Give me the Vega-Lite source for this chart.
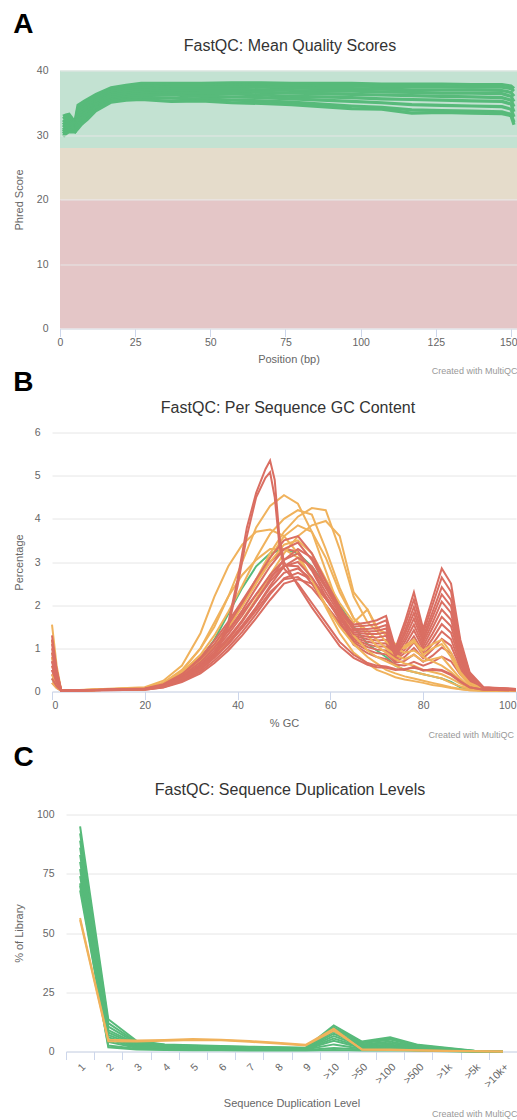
{
"$schema":"https://vega.github.io/schema/vega-lite/v6.json",
"background":"white",
"padding":{"left":12,"top":10.5,"right":0,"bottom":0},
"config":{
 "view":{"stroke":null},
 "font":"Liberation Sans",
 "axis":{"labelFont":"Liberation Sans","titleFont":"Liberation Sans","labelColor":"#666666","titleColor":"#666666","labelFontSize":10.5,"titleFontSize":11,"titleFontWeight":"normal","domainColor":"#ccd6eb","tickColor":"#ccd6eb","gridColor":"#e6e6e6"},
 "title":{"font":"Liberation Sans","fontWeight":"normal"}
},
"datasets":{
"zones":[{"zone":"fail","lo":0,"hi":20},{"zone":"warn","lo":20,"hi":28},{"zone":"pass","lo":28,"hi":40}],
"samples":[{"s":"m1","q":"fail"},{"s":"m2","q":"fail"},{"s":"m3","q":"fail"},{"s":"m4","q":"fail"},{"s":"m5","q":"fail"},{"s":"m6","q":"fail"},{"s":"m7","q":"fail"},{"s":"m8","q":"fail"},{"s":"m9","q":"fail"},{"s":"m10","q":"fail"},{"s":"m11","q":"fail"},{"s":"m12","q":"fail"},{"s":"r1","q":"fail"},{"s":"r2","q":"fail"},{"s":"w1","q":"warn"},{"s":"w2","q":"warn"},{"s":"w3","q":"warn"},{"s":"w4","q":"warn"},{"s":"w5","q":"warn"},{"s":"w6","q":"warn"},{"s":"w7","q":"warn"},{"s":"w8","q":"warn"},{"s":"p1","q":"pass"},{"s":"d1","q":"pass"},{"s":"d2","q":"pass"},{"s":"d3","q":"pass"},{"s":"d4","q":"pass"},{"s":"d5","q":"pass"},{"s":"d6","q":"pass"},{"s":"d7","q":"pass"},{"s":"d8","q":"pass"},{"s":"d9","q":"pass"},{"s":"d10","q":"pass"},{"s":"d11","q":"pass"},{"s":"e1","q":"warn"},{"s":"e2","q":"warn"}],
"qual":[
{"s":"a1","x":1,"y":32.9},{"s":"a1","x":2,"y":33.1},{"s":"a1","x":3,"y":33.2},{"s":"a1","x":4,"y":32.6},{"s":"a1","x":5,"y":32.1},{"s":"a1","x":6,"y":34.6},{"s":"a1","x":7,"y":34.9},{"s":"a1","x":8,"y":35.2},{"s":"a1","x":9,"y":35.5},{"s":"a1","x":12,"y":36.3},{"s":"a1","x":17,"y":37.3},{"s":"a1","x":22,"y":37.7},{"s":"a1","x":27,"y":38},{"s":"a1","x":37,"y":38},{"s":"a1","x":47,"y":38},{"s":"a1","x":57,"y":38.1},{"s":"a1","x":67,"y":38.1},{"s":"a1","x":77,"y":38},{"s":"a1","x":87,"y":38},{"s":"a1","x":97,"y":38},{"s":"a1","x":107,"y":37.9},{"s":"a1","x":117,"y":37.9},{"s":"a1","x":127,"y":37.9},{"s":"a1","x":137,"y":37.8},{"s":"a1","x":147,"y":37.8},{"s":"a1","x":150,"y":37.6},{"s":"a1","x":151,"y":37.2},
{"s":"a2","x":1,"y":32.5},{"s":"a2","x":2,"y":32.8},{"s":"a2","x":3,"y":33},{"s":"a2","x":4,"y":32.3},{"s":"a2","x":5,"y":31.8},{"s":"a2","x":6,"y":34.2},{"s":"a2","x":7,"y":34.6},{"s":"a2","x":8,"y":34.9},{"s":"a2","x":9,"y":35.2},{"s":"a2","x":12,"y":36},{"s":"a2","x":17,"y":37},{"s":"a2","x":22,"y":37.4},{"s":"a2","x":27,"y":37.6},{"s":"a2","x":37,"y":37.7},{"s":"a2","x":47,"y":37.7},{"s":"a2","x":57,"y":37.8},{"s":"a2","x":67,"y":37.7},{"s":"a2","x":77,"y":37.7},{"s":"a2","x":87,"y":37.6},{"s":"a2","x":97,"y":37.6},{"s":"a2","x":107,"y":37.5},{"s":"a2","x":117,"y":37.5},{"s":"a2","x":127,"y":37.5},{"s":"a2","x":137,"y":37.4},{"s":"a2","x":147,"y":37.4},{"s":"a2","x":150,"y":37.2},{"s":"a2","x":151,"y":36.8},
{"s":"a3","x":1,"y":32},{"s":"a3","x":2,"y":32.4},{"s":"a3","x":3,"y":32.6},{"s":"a3","x":4,"y":32},{"s":"a3","x":5,"y":31.5},{"s":"a3","x":6,"y":33.8},{"s":"a3","x":7,"y":34.2},{"s":"a3","x":8,"y":34.5},{"s":"a3","x":9,"y":34.8},{"s":"a3","x":12,"y":35.7},{"s":"a3","x":17,"y":36.7},{"s":"a3","x":22,"y":37.1},{"s":"a3","x":27,"y":37.3},{"s":"a3","x":37,"y":37.4},{"s":"a3","x":47,"y":37.4},{"s":"a3","x":57,"y":37.5},{"s":"a3","x":67,"y":37.4},{"s":"a3","x":77,"y":37.3},{"s":"a3","x":87,"y":37.2},{"s":"a3","x":97,"y":37.2},{"s":"a3","x":107,"y":37.1},{"s":"a3","x":117,"y":37},{"s":"a3","x":127,"y":37},{"s":"a3","x":137,"y":37},{"s":"a3","x":147,"y":36.9},{"s":"a3","x":150,"y":36.6},{"s":"a3","x":151,"y":36},
{"s":"a4","x":1,"y":31.6},{"s":"a4","x":2,"y":32},{"s":"a4","x":3,"y":32.2},{"s":"a4","x":4,"y":31.7},{"s":"a4","x":5,"y":31.2},{"s":"a4","x":6,"y":33.4},{"s":"a4","x":7,"y":33.8},{"s":"a4","x":8,"y":34.1},{"s":"a4","x":9,"y":34.4},{"s":"a4","x":12,"y":35.4},{"s":"a4","x":17,"y":36.4},{"s":"a4","x":22,"y":36.8},{"s":"a4","x":27,"y":37},{"s":"a4","x":37,"y":37.1},{"s":"a4","x":47,"y":37.1},{"s":"a4","x":57,"y":37.1},{"s":"a4","x":67,"y":37},{"s":"a4","x":77,"y":36.9},{"s":"a4","x":87,"y":36.8},{"s":"a4","x":97,"y":36.8},{"s":"a4","x":107,"y":36.7},{"s":"a4","x":117,"y":36.6},{"s":"a4","x":127,"y":36.5},{"s":"a4","x":137,"y":36.5},{"s":"a4","x":147,"y":36.4},{"s":"a4","x":150,"y":36},{"s":"a4","x":151,"y":35.2},
{"s":"a5","x":1,"y":31.2},{"s":"a5","x":2,"y":31.6},{"s":"a5","x":3,"y":31.8},{"s":"a5","x":4,"y":31.4},{"s":"a5","x":5,"y":31},{"s":"a5","x":6,"y":33},{"s":"a5","x":7,"y":33.4},{"s":"a5","x":8,"y":33.7},{"s":"a5","x":9,"y":34},{"s":"a5","x":12,"y":35.1},{"s":"a5","x":17,"y":36.1},{"s":"a5","x":22,"y":36.5},{"s":"a5","x":27,"y":36.7},{"s":"a5","x":37,"y":36.8},{"s":"a5","x":47,"y":36.8},{"s":"a5","x":57,"y":36.8},{"s":"a5","x":67,"y":36.6},{"s":"a5","x":77,"y":36.5},{"s":"a5","x":87,"y":36.4},{"s":"a5","x":97,"y":36.3},{"s":"a5","x":107,"y":36.2},{"s":"a5","x":117,"y":36.1},{"s":"a5","x":127,"y":36},{"s":"a5","x":137,"y":35.9},{"s":"a5","x":147,"y":35.8},{"s":"a5","x":150,"y":35.4},{"s":"a5","x":151,"y":34.4},
{"s":"a6","x":1,"y":30.8},{"s":"a6","x":2,"y":31.2},{"s":"a6","x":3,"y":31.4},{"s":"a6","x":4,"y":31.1},{"s":"a6","x":5,"y":30.8},{"s":"a6","x":6,"y":32.5},{"s":"a6","x":7,"y":33},{"s":"a6","x":8,"y":33.3},{"s":"a6","x":9,"y":33.6},{"s":"a6","x":12,"y":34.8},{"s":"a6","x":17,"y":35.8},{"s":"a6","x":22,"y":36.2},{"s":"a6","x":27,"y":36.4},{"s":"a6","x":37,"y":36.5},{"s":"a6","x":47,"y":36.4},{"s":"a6","x":57,"y":36.4},{"s":"a6","x":67,"y":36.2},{"s":"a6","x":77,"y":36},{"s":"a6","x":87,"y":35.9},{"s":"a6","x":97,"y":35.8},{"s":"a6","x":107,"y":35.6},{"s":"a6","x":117,"y":35.5},{"s":"a6","x":127,"y":35.4},{"s":"a6","x":137,"y":35.3},{"s":"a6","x":147,"y":35.2},{"s":"a6","x":150,"y":34.8},{"s":"a6","x":151,"y":33.6},
{"s":"a7","x":1,"y":30.5},{"s":"a7","x":2,"y":30.9},{"s":"a7","x":3,"y":31.1},{"s":"a7","x":4,"y":30.9},{"s":"a7","x":5,"y":30.6},{"s":"a7","x":6,"y":32},{"s":"a7","x":7,"y":32.6},{"s":"a7","x":8,"y":32.9},{"s":"a7","x":9,"y":33.2},{"s":"a7","x":12,"y":34.5},{"s":"a7","x":17,"y":35.5},{"s":"a7","x":22,"y":35.9},{"s":"a7","x":27,"y":36.1},{"s":"a7","x":37,"y":36.2},{"s":"a7","x":47,"y":36},{"s":"a7","x":57,"y":35.9},{"s":"a7","x":67,"y":35.8},{"s":"a7","x":77,"y":35.6},{"s":"a7","x":87,"y":35.4},{"s":"a7","x":97,"y":35.2},{"s":"a7","x":107,"y":35},{"s":"a7","x":117,"y":34.7},{"s":"a7","x":127,"y":34.6},{"s":"a7","x":137,"y":34.5},{"s":"a7","x":147,"y":34.4},{"s":"a7","x":150,"y":34},{"s":"a7","x":151,"y":32.8},
{"s":"a8","x":1,"y":30.2},{"s":"a8","x":2,"y":30.6},{"s":"a8","x":3,"y":30.8},{"s":"a8","x":4,"y":30.7},{"s":"a8","x":5,"y":30.5},{"s":"a8","x":6,"y":31.5},{"s":"a8","x":7,"y":32.1},{"s":"a8","x":8,"y":32.5},{"s":"a8","x":9,"y":32.8},{"s":"a8","x":12,"y":34.2},{"s":"a8","x":17,"y":35.3},{"s":"a8","x":22,"y":35.6},{"s":"a8","x":27,"y":35.8},{"s":"a8","x":37,"y":35.7},{"s":"a8","x":47,"y":35.6},{"s":"a8","x":57,"y":35.4},{"s":"a8","x":67,"y":35.3},{"s":"a8","x":77,"y":35.1},{"s":"a8","x":87,"y":34.8},{"s":"a8","x":97,"y":34.5},{"s":"a8","x":107,"y":34.3},{"s":"a8","x":117,"y":33.9},{"s":"a8","x":127,"y":33.8},{"s":"a8","x":137,"y":33.7},{"s":"a8","x":147,"y":33.6},{"s":"a8","x":150,"y":33.2},{"s":"a8","x":151,"y":32},
{"s":"a9","x":1,"y":29.8},{"s":"a9","x":2,"y":30.2},{"s":"a9","x":3,"y":30.5},{"s":"a9","x":4,"y":30.5},{"s":"a9","x":5,"y":30.5},{"s":"a9","x":6,"y":31},{"s":"a9","x":7,"y":31.6},{"s":"a9","x":8,"y":32},{"s":"a9","x":9,"y":32.4},{"s":"a9","x":12,"y":33.8},{"s":"a9","x":17,"y":35.1},{"s":"a9","x":22,"y":35.4},{"s":"a9","x":27,"y":35.5},{"s":"a9","x":37,"y":35.2},{"s":"a9","x":47,"y":35.3},{"s":"a9","x":57,"y":35},{"s":"a9","x":67,"y":34.9},{"s":"a9","x":77,"y":34.7},{"s":"a9","x":87,"y":34.4},{"s":"a9","x":97,"y":34.1},{"s":"a9","x":107,"y":34},{"s":"a9","x":117,"y":33.4},{"s":"a9","x":127,"y":33.5},{"s":"a9","x":137,"y":33.4},{"s":"a9","x":147,"y":33.3},{"s":"a9","x":150,"y":33},{"s":"a9","x":151,"y":31.6}
],
"gc":[
{"s":"p1","x":0,"y":0.3},{"s":"p1","x":1,"y":0.1},{"s":"p1","x":2,"y":0.02},{"s":"p1","x":20,"y":0.06},{"s":"p1","x":24,"y":0.15},{"s":"p1","x":28,"y":0.35},{"s":"p1","x":32,"y":0.75},{"s":"p1","x":35,"y":1.2},{"s":"p1","x":38,"y":1.8},{"s":"p1","x":41,"y":2.4},{"s":"p1","x":44,"y":2.9},{"s":"p1","x":47,"y":3.2},{"s":"p1","x":50,"y":3.3},{"s":"p1","x":53,"y":3.2},{"s":"p1","x":56,"y":2.9},{"s":"p1","x":59,"y":2.45},{"s":"p1","x":62,"y":2},{"s":"p1","x":65,"y":1.5},{"s":"p1","x":68,"y":1.1},{"s":"p1","x":70,"y":0.95},{"s":"p1","x":72,"y":0.8},{"s":"p1","x":74,"y":0.6},{"s":"p1","x":76,"y":0.5},{"s":"p1","x":78,"y":0.45},{"s":"p1","x":80,"y":0.4},{"s":"p1","x":82,"y":0.35},{"s":"p1","x":84,"y":0.3},{"s":"p1","x":86,"y":0.22},{"s":"p1","x":88,"y":0.1},{"s":"p1","x":90,"y":0.05},{"s":"p1","x":93,"y":0.02},{"s":"p1","x":100,"y":0.01},
{"s":"m7","x":0,"y":0.8},{"s":"m7","x":1,"y":0.3},{"s":"m7","x":2,"y":0.02},{"s":"m7","x":20,"y":0.07},{"s":"m7","x":24,"y":0.17},{"s":"m7","x":28,"y":0.38},{"s":"m7","x":32,"y":0.7},{"s":"m7","x":35,"y":1.02},{"s":"m7","x":38,"y":1.4},{"s":"m7","x":41,"y":1.82},{"s":"m7","x":44,"y":2.25},{"s":"m7","x":47,"y":2.65},{"s":"m7","x":50,"y":2.92},{"s":"m7","x":53,"y":2.9},{"s":"m7","x":56,"y":2.5},{"s":"m7","x":59,"y":2},{"s":"m7","x":62,"y":1.55},{"s":"m7","x":65,"y":1.21},{"s":"m7","x":68,"y":1.09},{"s":"m7","x":70,"y":1.04},{"s":"m7","x":72,"y":1.04},{"s":"m7","x":74,"y":0.73},{"s":"m7","x":76,"y":0.89},{"s":"m7","x":78,"y":1.14},{"s":"m7","x":80,"y":0.84},{"s":"m7","x":82,"y":1.1},{"s":"m7","x":84,"y":1.39},{"s":"m7","x":86,"y":1.21},{"s":"m7","x":88,"y":0.62},{"s":"m7","x":90,"y":0.25},{"s":"m7","x":93,"y":0.06},{"s":"m7","x":100,"y":0.04},
{"s":"m8","x":0,"y":0.5},{"s":"m8","x":1,"y":0.2},{"s":"m8","x":2,"y":0.02},{"s":"m8","x":20,"y":0.05},{"s":"m8","x":24,"y":0.12},{"s":"m8","x":28,"y":0.28},{"s":"m8","x":32,"y":0.54},{"s":"m8","x":35,"y":0.82},{"s":"m8","x":38,"y":1.15},{"s":"m8","x":41,"y":1.53},{"s":"m8","x":44,"y":1.95},{"s":"m8","x":47,"y":2.4},{"s":"m8","x":50,"y":2.75},{"s":"m8","x":53,"y":2.85},{"s":"m8","x":56,"y":2.6},{"s":"m8","x":59,"y":2.15},{"s":"m8","x":62,"y":1.7},{"s":"m8","x":65,"y":1.29},{"s":"m8","x":68,"y":1.21},{"s":"m8","x":70,"y":1.18},{"s":"m8","x":72,"y":1.2},{"s":"m8","x":74,"y":0.79},{"s":"m8","x":76,"y":1.05},{"s":"m8","x":78,"y":1.42},{"s":"m8","x":80,"y":0.98},{"s":"m8","x":82,"y":1.34},{"s":"m8","x":84,"y":1.73},{"s":"m8","x":86,"y":1.51},{"s":"m8","x":88,"y":0.76},{"s":"m8","x":90,"y":0.29},{"s":"m8","x":93,"y":0.07},{"s":"m8","x":100,"y":0.04},
{"s":"m9","x":0,"y":1},{"s":"m9","x":1,"y":0.4},{"s":"m9","x":2,"y":0.02},{"s":"m9","x":20,"y":0.04},{"s":"m9","x":24,"y":0.1},{"s":"m9","x":28,"y":0.24},{"s":"m9","x":32,"y":0.46},{"s":"m9","x":35,"y":0.72},{"s":"m9","x":38,"y":1.02},{"s":"m9","x":41,"y":1.38},{"s":"m9","x":44,"y":1.8},{"s":"m9","x":47,"y":2.25},{"s":"m9","x":50,"y":2.62},{"s":"m9","x":53,"y":2.75},{"s":"m9","x":56,"y":2.6},{"s":"m9","x":59,"y":2.2},{"s":"m9","x":62,"y":1.75},{"s":"m9","x":65,"y":1.25},{"s":"m9","x":68,"y":1.15},{"s":"m9","x":70,"y":1.11},{"s":"m9","x":72,"y":1.12},{"s":"m9","x":74,"y":0.76},{"s":"m9","x":76,"y":0.97},{"s":"m9","x":78,"y":1.28},{"s":"m9","x":80,"y":0.91},{"s":"m9","x":82,"y":1.22},{"s":"m9","x":84,"y":1.56},{"s":"m9","x":86,"y":1.36},{"s":"m9","x":88,"y":0.69},{"s":"m9","x":90,"y":0.27},{"s":"m9","x":93,"y":0.06},{"s":"m9","x":100,"y":0.04},
{"s":"m10","x":0,"y":0.2},{"s":"m10","x":1,"y":0.08},{"s":"m10","x":2,"y":0.02},{"s":"m10","x":20,"y":0.05},{"s":"m10","x":24,"y":0.12},{"s":"m10","x":28,"y":0.28},{"s":"m10","x":32,"y":0.52},{"s":"m10","x":35,"y":0.8},{"s":"m10","x":38,"y":1.1},{"s":"m10","x":41,"y":1.47},{"s":"m10","x":44,"y":1.88},{"s":"m10","x":47,"y":2.3},{"s":"m10","x":50,"y":2.6},{"s":"m10","x":53,"y":2.65},{"s":"m10","x":56,"y":2.4},{"s":"m10","x":59,"y":2},{"s":"m10","x":62,"y":1.6},{"s":"m10","x":65,"y":1.17},{"s":"m10","x":68,"y":1.03},{"s":"m10","x":70,"y":0.97},{"s":"m10","x":72,"y":0.95},{"s":"m10","x":74,"y":0.7},{"s":"m10","x":76,"y":0.8},{"s":"m10","x":78,"y":1.01},{"s":"m10","x":80,"y":0.77},{"s":"m10","x":82,"y":0.97},{"s":"m10","x":84,"y":1.22},{"s":"m10","x":86,"y":1.06},{"s":"m10","x":88,"y":0.55},{"s":"m10","x":90,"y":0.22},{"s":"m10","x":93,"y":0.05},{"s":"m10","x":100,"y":0.04},
{"s":"m11","x":0,"y":0.7},{"s":"m11","x":1,"y":0.3},{"s":"m11","x":2,"y":0.02},{"s":"m11","x":20,"y":0.04},{"s":"m11","x":24,"y":0.09},{"s":"m11","x":28,"y":0.22},{"s":"m11","x":32,"y":0.42},{"s":"m11","x":35,"y":0.66},{"s":"m11","x":38,"y":0.95},{"s":"m11","x":41,"y":1.3},{"s":"m11","x":44,"y":1.7},{"s":"m11","x":47,"y":2.12},{"s":"m11","x":50,"y":2.5},{"s":"m11","x":53,"y":2.6},{"s":"m11","x":56,"y":2.5},{"s":"m11","x":59,"y":2.15},{"s":"m11","x":62,"y":1.75},{"s":"m11","x":65,"y":1.13},{"s":"m11","x":68,"y":0.96},{"s":"m11","x":70,"y":0.89},{"s":"m11","x":72,"y":0.86},{"s":"m11","x":74,"y":0.66},{"s":"m11","x":76,"y":0.71},{"s":"m11","x":78,"y":0.86},{"s":"m11","x":80,"y":0.69},{"s":"m11","x":82,"y":0.83},{"s":"m11","x":84,"y":1.02},{"s":"m11","x":86,"y":0.89},{"s":"m11","x":88,"y":0.48},{"s":"m11","x":90,"y":0.2},{"s":"m11","x":93,"y":0.05},{"s":"m11","x":100,"y":0.03},
{"s":"m12","x":0,"y":0.4},{"s":"m12","x":1,"y":0.15},{"s":"m12","x":2,"y":0.02},{"s":"m12","x":20,"y":0.08},{"s":"m12","x":24,"y":0.19},{"s":"m12","x":28,"y":0.43},{"s":"m12","x":32,"y":0.8},{"s":"m12","x":35,"y":1.18},{"s":"m12","x":38,"y":1.62},{"s":"m12","x":41,"y":2.1},{"s":"m12","x":44,"y":2.6},{"s":"m12","x":47,"y":3},{"s":"m12","x":50,"y":3.3},{"s":"m12","x":53,"y":3.25},{"s":"m12","x":56,"y":2.8},{"s":"m12","x":59,"y":2.2},{"s":"m12","x":62,"y":1.65},{"s":"m12","x":65,"y":1.08},{"s":"m12","x":68,"y":0.89},{"s":"m12","x":70,"y":0.8},{"s":"m12","x":72,"y":0.75},{"s":"m12","x":74,"y":0.62},{"s":"m12","x":76,"y":0.6},{"s":"m12","x":78,"y":0.69},{"s":"m12","x":80,"y":0.6},{"s":"m12","x":82,"y":0.68},{"s":"m12","x":84,"y":0.81},{"s":"m12","x":86,"y":0.7},{"s":"m12","x":88,"y":0.39},{"s":"m12","x":90,"y":0.17},{"s":"m12","x":93,"y":0.04},{"s":"m12","x":100,"y":0.03},
{"s":"w1","x":0,"y":1.55},{"s":"w1","x":1,"y":0.6},{"s":"w1","x":2,"y":0.02},{"s":"w1","x":20,"y":0.08},{"s":"w1","x":24,"y":0.2},{"s":"w1","x":28,"y":0.5},{"s":"w1","x":32,"y":1},{"s":"w1","x":35,"y":1.5},{"s":"w1","x":38,"y":2.2},{"s":"w1","x":41,"y":3},{"s":"w1","x":44,"y":3.8},{"s":"w1","x":47,"y":4.3},{"s":"w1","x":50,"y":4.55},{"s":"w1","x":53,"y":4.35},{"s":"w1","x":56,"y":3.7},{"s":"w1","x":59,"y":2.8},{"s":"w1","x":62,"y":1.9},{"s":"w1","x":65,"y":1.3},{"s":"w1","x":68,"y":0.95},{"s":"w1","x":70,"y":0.8},{"s":"w1","x":72,"y":0.7},{"s":"w1","x":74,"y":0.6},{"s":"w1","x":76,"y":0.5},{"s":"w1","x":78,"y":0.45},{"s":"w1","x":80,"y":0.4},{"s":"w1","x":82,"y":0.35},{"s":"w1","x":84,"y":0.3},{"s":"w1","x":86,"y":0.2},{"s":"w1","x":88,"y":0.12},{"s":"w1","x":90,"y":0.06},{"s":"w1","x":93,"y":0.03},{"s":"w1","x":100,"y":0.02},
{"s":"w2","x":0,"y":0.4},{"s":"w2","x":1,"y":0.15},{"s":"w2","x":2,"y":0.02},{"s":"w2","x":20,"y":0.06},{"s":"w2","x":24,"y":0.15},{"s":"w2","x":28,"y":0.35},{"s":"w2","x":32,"y":0.7},{"s":"w2","x":35,"y":1.05},{"s":"w2","x":38,"y":1.5},{"s":"w2","x":41,"y":2},{"s":"w2","x":44,"y":2.6},{"s":"w2","x":47,"y":3.2},{"s":"w2","x":50,"y":3.7},{"s":"w2","x":53,"y":4.05},{"s":"w2","x":56,"y":4.25},{"s":"w2","x":59,"y":4.2},{"s":"w2","x":62,"y":3.3},{"s":"w2","x":65,"y":2.2},{"s":"w2","x":68,"y":1.6},{"s":"w2","x":70,"y":1.4},{"s":"w2","x":72,"y":1.15},{"s":"w2","x":74,"y":1},{"s":"w2","x":76,"y":0.9},{"s":"w2","x":78,"y":0.95},{"s":"w2","x":80,"y":0.8},{"s":"w2","x":82,"y":0.7},{"s":"w2","x":84,"y":0.6},{"s":"w2","x":86,"y":0.45},{"s":"w2","x":88,"y":0.25},{"s":"w2","x":90,"y":0.12},{"s":"w2","x":93,"y":0.05},{"s":"w2","x":100,"y":0.02},
{"s":"w3","x":0,"y":0.2},{"s":"w3","x":1,"y":0.08},{"s":"w3","x":2,"y":0.02},{"s":"w3","x":20,"y":0.05},{"s":"w3","x":24,"y":0.12},{"s":"w3","x":28,"y":0.28},{"s":"w3","x":32,"y":0.55},{"s":"w3","x":35,"y":0.85},{"s":"w3","x":38,"y":1.2},{"s":"w3","x":41,"y":1.65},{"s":"w3","x":44,"y":2.15},{"s":"w3","x":47,"y":2.7},{"s":"w3","x":50,"y":3.2},{"s":"w3","x":53,"y":3.6},{"s":"w3","x":56,"y":3.85},{"s":"w3","x":59,"y":3.95},{"s":"w3","x":62,"y":3.6},{"s":"w3","x":65,"y":2.3},{"s":"w3","x":68,"y":1.9},{"s":"w3","x":70,"y":1.5},{"s":"w3","x":72,"y":1.3},{"s":"w3","x":74,"y":1.1},{"s":"w3","x":76,"y":1},{"s":"w3","x":78,"y":1.15},{"s":"w3","x":80,"y":0.95},{"s":"w3","x":82,"y":1.1},{"s":"w3","x":84,"y":1.2},{"s":"w3","x":86,"y":0.9},{"s":"w3","x":88,"y":0.45},{"s":"w3","x":90,"y":0.2},{"s":"w3","x":93,"y":0.06},{"s":"w3","x":100,"y":0.03},
{"s":"w4","x":0,"y":0.9},{"s":"w4","x":1,"y":0.35},{"s":"w4","x":2,"y":0.02},{"s":"w4","x":20,"y":0.07},{"s":"w4","x":24,"y":0.18},{"s":"w4","x":28,"y":0.45},{"s":"w4","x":32,"y":0.85},{"s":"w4","x":35,"y":1.3},{"s":"w4","x":38,"y":1.85},{"s":"w4","x":41,"y":2.45},{"s":"w4","x":44,"y":3.1},{"s":"w4","x":47,"y":3.65},{"s":"w4","x":50,"y":4},{"s":"w4","x":53,"y":4.2},{"s":"w4","x":56,"y":4.1},{"s":"w4","x":59,"y":3.3},{"s":"w4","x":62,"y":2.4},{"s":"w4","x":65,"y":1.7},{"s":"w4","x":68,"y":1.3},{"s":"w4","x":70,"y":1.05},{"s":"w4","x":72,"y":0.9},{"s":"w4","x":74,"y":0.75},{"s":"w4","x":76,"y":0.65},{"s":"w4","x":78,"y":0.6},{"s":"w4","x":80,"y":0.5},{"s":"w4","x":82,"y":0.45},{"s":"w4","x":84,"y":0.4},{"s":"w4","x":86,"y":0.3},{"s":"w4","x":88,"y":0.18},{"s":"w4","x":90,"y":0.08},{"s":"w4","x":93,"y":0.03},{"s":"w4","x":100,"y":0.02},
{"s":"w5","x":0,"y":1.2},{"s":"w5","x":1,"y":0.45},{"s":"w5","x":2,"y":0.02},{"s":"w5","x":20,"y":0.1},{"s":"w5","x":24,"y":0.25},{"s":"w5","x":28,"y":0.6},{"s":"w5","x":32,"y":1.35},{"s":"w5","x":35,"y":2.2},{"s":"w5","x":38,"y":2.9},{"s":"w5","x":41,"y":3.4},{"s":"w5","x":44,"y":3.7},{"s":"w5","x":47,"y":3.75},{"s":"w5","x":50,"y":3.6},{"s":"w5","x":53,"y":3.2},{"s":"w5","x":56,"y":2.6},{"s":"w5","x":59,"y":2},{"s":"w5","x":62,"y":1.5},{"s":"w5","x":65,"y":1.1},{"s":"w5","x":68,"y":0.8},{"s":"w5","x":70,"y":0.65},{"s":"w5","x":72,"y":0.5},{"s":"w5","x":74,"y":0.42},{"s":"w5","x":76,"y":0.35},{"s":"w5","x":78,"y":0.3},{"s":"w5","x":80,"y":0.25},{"s":"w5","x":82,"y":0.2},{"s":"w5","x":84,"y":0.15},{"s":"w5","x":86,"y":0.1},{"s":"w5","x":88,"y":0.06},{"s":"w5","x":90,"y":0.03},{"s":"w5","x":93,"y":0.02},{"s":"w5","x":100,"y":0.01},
{"s":"w6","x":0,"y":0.6},{"s":"w6","x":1,"y":0.25},{"s":"w6","x":2,"y":0.02},{"s":"w6","x":20,"y":0.06},{"s":"w6","x":24,"y":0.16},{"s":"w6","x":28,"y":0.38},{"s":"w6","x":32,"y":0.72},{"s":"w6","x":35,"y":1.08},{"s":"w6","x":38,"y":1.5},{"s":"w6","x":41,"y":1.98},{"s":"w6","x":44,"y":2.5},{"s":"w6","x":47,"y":3},{"s":"w6","x":50,"y":3.4},{"s":"w6","x":53,"y":3.5},{"s":"w6","x":56,"y":3.2},{"s":"w6","x":59,"y":2.6},{"s":"w6","x":62,"y":2.05},{"s":"w6","x":65,"y":1.6},{"s":"w6","x":68,"y":1.9},{"s":"w6","x":70,"y":1.45},{"s":"w6","x":72,"y":1.35},{"s":"w6","x":74,"y":0.9},{"s":"w6","x":76,"y":1.05},{"s":"w6","x":78,"y":1.2},{"s":"w6","x":80,"y":0.85},{"s":"w6","x":82,"y":1},{"s":"w6","x":84,"y":1.1},{"s":"w6","x":86,"y":0.8},{"s":"w6","x":88,"y":0.4},{"s":"w6","x":90,"y":0.15},{"s":"w6","x":93,"y":0.05},{"s":"w6","x":100,"y":0.02},
{"s":"w7","x":0,"y":0.3},{"s":"w7","x":1,"y":0.12},{"s":"w7","x":2,"y":0.02},{"s":"w7","x":20,"y":0.06},{"s":"w7","x":24,"y":0.15},{"s":"w7","x":28,"y":0.36},{"s":"w7","x":32,"y":0.7},{"s":"w7","x":35,"y":1.05},{"s":"w7","x":38,"y":1.48},{"s":"w7","x":41,"y":2},{"s":"w7","x":44,"y":2.55},{"s":"w7","x":47,"y":3.1},{"s":"w7","x":50,"y":3.6},{"s":"w7","x":53,"y":3.85},{"s":"w7","x":56,"y":3.7},{"s":"w7","x":59,"y":3.1},{"s":"w7","x":62,"y":2.3},{"s":"w7","x":65,"y":1.7},{"s":"w7","x":68,"y":1.4},{"s":"w7","x":70,"y":1.2},{"s":"w7","x":72,"y":1},{"s":"w7","x":74,"y":0.85},{"s":"w7","x":76,"y":0.75},{"s":"w7","x":78,"y":0.85},{"s":"w7","x":80,"y":0.7},{"s":"w7","x":82,"y":0.75},{"s":"w7","x":84,"y":0.8},{"s":"w7","x":86,"y":0.55},{"s":"w7","x":88,"y":0.3},{"s":"w7","x":90,"y":0.1},{"s":"w7","x":93,"y":0.04},{"s":"w7","x":100,"y":0.02},
{"s":"w8","x":0,"y":0.8},{"s":"w8","x":1,"y":0.3},{"s":"w8","x":2,"y":0.02},{"s":"w8","x":20,"y":0.08},{"s":"w8","x":24,"y":0.2},{"s":"w8","x":28,"y":0.48},{"s":"w8","x":32,"y":1},{"s":"w8","x":35,"y":1.6},{"s":"w8","x":38,"y":2.2},{"s":"w8","x":41,"y":2.7},{"s":"w8","x":44,"y":3.05},{"s":"w8","x":47,"y":3.3},{"s":"w8","x":50,"y":3.3},{"s":"w8","x":53,"y":3.1},{"s":"w8","x":56,"y":2.6},{"s":"w8","x":59,"y":1.95},{"s":"w8","x":62,"y":1.35},{"s":"w8","x":65,"y":0.9},{"s":"w8","x":68,"y":0.65},{"s":"w8","x":70,"y":0.5},{"s":"w8","x":72,"y":0.42},{"s":"w8","x":74,"y":0.33},{"s":"w8","x":76,"y":0.28},{"s":"w8","x":78,"y":0.24},{"s":"w8","x":80,"y":0.2},{"s":"w8","x":82,"y":0.15},{"s":"w8","x":84,"y":0.12},{"s":"w8","x":86,"y":0.08},{"s":"w8","x":88,"y":0.05},{"s":"w8","x":90,"y":0.03},{"s":"w8","x":93,"y":0.02},{"s":"w8","x":100,"y":0.01},
{"s":"m1","x":0,"y":1.3},{"s":"m1","x":1,"y":0.5},{"s":"m1","x":2,"y":0.02},{"s":"m1","x":20,"y":0.07},{"s":"m1","x":24,"y":0.17},{"s":"m1","x":28,"y":0.4},{"s":"m1","x":32,"y":0.75},{"s":"m1","x":35,"y":1.1},{"s":"m1","x":38,"y":1.55},{"s":"m1","x":41,"y":2.05},{"s":"m1","x":44,"y":2.6},{"s":"m1","x":47,"y":3.1},{"s":"m1","x":50,"y":3.5},{"s":"m1","x":53,"y":3.6},{"s":"m1","x":56,"y":3.2},{"s":"m1","x":59,"y":2.55},{"s":"m1","x":62,"y":1.95},{"s":"m1","x":65,"y":1.41},{"s":"m1","x":68,"y":1.39},{"s":"m1","x":70,"y":1.4},{"s":"m1","x":72,"y":1.46},{"s":"m1","x":74,"y":0.89},{"s":"m1","x":76,"y":1.31},{"s":"m1","x":78,"y":1.82},{"s":"m1","x":80,"y":1.2},{"s":"m1","x":82,"y":1.72},{"s":"m1","x":84,"y":2.25},{"s":"m1","x":86,"y":1.97},{"s":"m1","x":88,"y":0.96},{"s":"m1","x":90,"y":0.37},{"s":"m1","x":93,"y":0.08},{"s":"m1","x":100,"y":0.05},
{"s":"m2","x":0,"y":0.9},{"s":"m2","x":1,"y":0.35},{"s":"m2","x":2,"y":0.02},{"s":"m2","x":20,"y":0.06},{"s":"m2","x":24,"y":0.15},{"s":"m2","x":28,"y":0.36},{"s":"m2","x":32,"y":0.68},{"s":"m2","x":35,"y":1.02},{"s":"m2","x":38,"y":1.42},{"s":"m2","x":41,"y":1.88},{"s":"m2","x":44,"y":2.4},{"s":"m2","x":47,"y":2.9},{"s":"m2","x":50,"y":3.3},{"s":"m2","x":53,"y":3.45},{"s":"m2","x":56,"y":3.05},{"s":"m2","x":59,"y":2.45},{"s":"m2","x":62,"y":1.9},{"s":"m2","x":65,"y":1.55},{"s":"m2","x":68,"y":1.6},{"s":"m2","x":70,"y":1.65},{"s":"m2","x":72,"y":1.75},{"s":"m2","x":74,"y":1},{"s":"m2","x":76,"y":1.6},{"s":"m2","x":78,"y":2.3},{"s":"m2","x":80,"y":1.45},{"s":"m2","x":82,"y":2.15},{"s":"m2","x":84,"y":2.85},{"s":"m2","x":86,"y":2.5},{"s":"m2","x":88,"y":1.2},{"s":"m2","x":90,"y":0.45},{"s":"m2","x":93,"y":0.1},{"s":"m2","x":100,"y":0.06},
{"s":"m3","x":0,"y":1.1},{"s":"m3","x":1,"y":0.45},{"s":"m3","x":2,"y":0.02},{"s":"m3","x":20,"y":0.05},{"s":"m3","x":24,"y":0.12},{"s":"m3","x":28,"y":0.28},{"s":"m3","x":32,"y":0.55},{"s":"m3","x":35,"y":0.85},{"s":"m3","x":38,"y":1.2},{"s":"m3","x":41,"y":1.62},{"s":"m3","x":44,"y":2.1},{"s":"m3","x":47,"y":2.6},{"s":"m3","x":50,"y":3.05},{"s":"m3","x":53,"y":3.3},{"s":"m3","x":56,"y":3.1},{"s":"m3","x":59,"y":2.55},{"s":"m3","x":62,"y":1.95},{"s":"m3","x":65,"y":1.5},{"s":"m3","x":68,"y":1.53},{"s":"m3","x":70,"y":1.56},{"s":"m3","x":72,"y":1.65},{"s":"m3","x":74,"y":0.96},{"s":"m3","x":76,"y":1.5},{"s":"m3","x":78,"y":2.13},{"s":"m3","x":80,"y":1.36},{"s":"m3","x":82,"y":2},{"s":"m3","x":84,"y":2.64},{"s":"m3","x":86,"y":2.31},{"s":"m3","x":88,"y":1.12},{"s":"m3","x":90,"y":0.42},{"s":"m3","x":93,"y":0.09},{"s":"m3","x":100,"y":0.06},
{"s":"m4","x":0,"y":0.6},{"s":"m4","x":1,"y":0.25},{"s":"m4","x":2,"y":0.02},{"s":"m4","x":20,"y":0.06},{"s":"m4","x":24,"y":0.14},{"s":"m4","x":28,"y":0.33},{"s":"m4","x":32,"y":0.63},{"s":"m4","x":35,"y":0.95},{"s":"m4","x":38,"y":1.33},{"s":"m4","x":41,"y":1.76},{"s":"m4","x":44,"y":2.25},{"s":"m4","x":47,"y":2.7},{"s":"m4","x":50,"y":3.05},{"s":"m4","x":53,"y":3.2},{"s":"m4","x":56,"y":2.85},{"s":"m4","x":59,"y":2.3},{"s":"m4","x":62,"y":1.8},{"s":"m4","x":65,"y":1.33},{"s":"m4","x":68,"y":1.27},{"s":"m4","x":70,"y":1.25},{"s":"m4","x":72,"y":1.29},{"s":"m4","x":74,"y":0.82},{"s":"m4","x":76,"y":1.14},{"s":"m4","x":78,"y":1.55},{"s":"m4","x":80,"y":1.05},{"s":"m4","x":82,"y":1.47},{"s":"m4","x":84,"y":1.9},{"s":"m4","x":86,"y":1.66},{"s":"m4","x":88,"y":0.83},{"s":"m4","x":90,"y":0.32},{"s":"m4","x":93,"y":0.07},{"s":"m4","x":100,"y":0.05},
{"s":"m5","x":0,"y":1.2},{"s":"m5","x":1,"y":0.5},{"s":"m5","x":2,"y":0.02},{"s":"m5","x":20,"y":0.05},{"s":"m5","x":24,"y":0.11},{"s":"m5","x":28,"y":0.26},{"s":"m5","x":32,"y":0.5},{"s":"m5","x":35,"y":0.78},{"s":"m5","x":38,"y":1.1},{"s":"m5","x":41,"y":1.5},{"s":"m5","x":44,"y":1.95},{"s":"m5","x":47,"y":2.45},{"s":"m5","x":50,"y":2.9},{"s":"m5","x":53,"y":3.1},{"s":"m5","x":56,"y":2.9},{"s":"m5","x":59,"y":2.4},{"s":"m5","x":62,"y":1.85},{"s":"m5","x":65,"y":1.45},{"s":"m5","x":68,"y":1.45},{"s":"m5","x":70,"y":1.47},{"s":"m5","x":72,"y":1.54},{"s":"m5","x":74,"y":0.92},{"s":"m5","x":76,"y":1.39},{"s":"m5","x":78,"y":1.96},{"s":"m5","x":80,"y":1.27},{"s":"m5","x":82,"y":1.84},{"s":"m5","x":84,"y":2.42},{"s":"m5","x":86,"y":2.12},{"s":"m5","x":88,"y":1.03},{"s":"m5","x":90,"y":0.39},{"s":"m5","x":93,"y":0.09},{"s":"m5","x":100,"y":0.05},
{"s":"m6","x":0,"y":0.3},{"s":"m6","x":1,"y":0.12},{"s":"m6","x":2,"y":0.02},{"s":"m6","x":20,"y":0.06},{"s":"m6","x":24,"y":0.14},{"s":"m6","x":28,"y":0.32},{"s":"m6","x":32,"y":0.6},{"s":"m6","x":35,"y":0.9},{"s":"m6","x":38,"y":1.25},{"s":"m6","x":41,"y":1.65},{"s":"m6","x":44,"y":2.1},{"s":"m6","x":47,"y":2.55},{"s":"m6","x":50,"y":2.9},{"s":"m6","x":53,"y":3},{"s":"m6","x":56,"y":2.65},{"s":"m6","x":59,"y":2.15},{"s":"m6","x":62,"y":1.7},{"s":"m6","x":65,"y":1.37},{"s":"m6","x":68,"y":1.33},{"s":"m6","x":70,"y":1.33},{"s":"m6","x":72,"y":1.37},{"s":"m6","x":74,"y":0.86},{"s":"m6","x":76,"y":1.22},{"s":"m6","x":78,"y":1.69},{"s":"m6","x":80,"y":1.13},{"s":"m6","x":82,"y":1.59},{"s":"m6","x":84,"y":2.08},{"s":"m6","x":86,"y":1.82},{"s":"m6","x":88,"y":0.89},{"s":"m6","x":90,"y":0.34},{"s":"m6","x":93,"y":0.08},{"s":"m6","x":100,"y":0.05},
{"s":"r1","x":0,"y":0.7},{"s":"r1","x":1,"y":0.28},{"s":"r1","x":2,"y":0.02},{"s":"r1","x":20,"y":0.06},{"s":"r1","x":24,"y":0.14},{"s":"r1","x":28,"y":0.33},{"s":"r1","x":32,"y":0.6},{"s":"r1","x":35,"y":0.85},{"s":"r1","x":38,"y":1.6},{"s":"r1","x":40,"y":2.6},{"s":"r1","x":42,"y":3.8},{"s":"r1","x":44,"y":4.6},{"s":"r1","x":46,"y":5.15},{"s":"r1","x":47,"y":5.35},{"s":"r1","x":48,"y":4.9},{"s":"r1","x":49,"y":3.6},{"s":"r1","x":50,"y":3},{"s":"r1","x":53,"y":2.45},{"s":"r1","x":56,"y":1.95},{"s":"r1","x":59,"y":1.5},{"s":"r1","x":62,"y":1.05},{"s":"r1","x":65,"y":0.78},{"s":"r1","x":68,"y":0.62},{"s":"r1","x":70,"y":0.56},{"s":"r1","x":72,"y":0.55},{"s":"r1","x":74,"y":0.5},{"s":"r1","x":76,"y":0.52},{"s":"r1","x":78,"y":0.55},{"s":"r1","x":80,"y":0.5},{"s":"r1","x":82,"y":0.5},{"s":"r1","x":84,"y":0.48},{"s":"r1","x":86,"y":0.38},{"s":"r1","x":88,"y":0.22},{"s":"r1","x":90,"y":0.1},{"s":"r1","x":93,"y":0.04},{"s":"r1","x":100,"y":0.03},
{"s":"r2","x":0,"y":0.5},{"s":"r2","x":1,"y":0.2},{"s":"r2","x":2,"y":0.02},{"s":"r2","x":20,"y":0.06},{"s":"r2","x":24,"y":0.13},{"s":"r2","x":28,"y":0.3},{"s":"r2","x":32,"y":0.56},{"s":"r2","x":35,"y":0.8},{"s":"r2","x":38,"y":1.5},{"s":"r2","x":40,"y":2.45},{"s":"r2","x":42,"y":3.6},{"s":"r2","x":44,"y":4.5},{"s":"r2","x":46,"y":4.95},{"s":"r2","x":47,"y":5.08},{"s":"r2","x":48,"y":4.5},{"s":"r2","x":49,"y":3.4},{"s":"r2","x":50,"y":2.85},{"s":"r2","x":53,"y":2.5},{"s":"r2","x":56,"y":2.05},{"s":"r2","x":59,"y":1.6},{"s":"r2","x":62,"y":1.15},{"s":"r2","x":65,"y":0.85},{"s":"r2","x":68,"y":0.66},{"s":"r2","x":70,"y":0.6},{"s":"r2","x":72,"y":0.58},{"s":"r2","x":74,"y":0.52},{"s":"r2","x":76,"y":0.5},{"s":"r2","x":78,"y":0.58},{"s":"r2","x":80,"y":0.48},{"s":"r2","x":82,"y":0.52},{"s":"r2","x":84,"y":0.5},{"s":"r2","x":86,"y":0.4},{"s":"r2","x":88,"y":0.24},{"s":"r2","x":90,"y":0.1},{"s":"r2","x":93,"y":0.04},{"s":"r2","x":100,"y":0.03}
],
"dup":[
{"s":"d1","x":"1","y":95},{"s":"d1","x":"2","y":13.6},{"s":"d1","x":"3","y":4.5},{"s":"d1","x":"4","y":3},{"s":"d1","x":"5","y":2.6},{"s":"d1","x":"6","y":2.3},{"s":"d1","x":"7","y":2},{"s":"d1","x":"8","y":1.8},{"s":"d1","x":"9","y":1.6},{"s":"d1","x":">10","y":11},{"s":"d1","x":">50","y":4.2},{"s":"d1","x":">100","y":6},{"s":"d1","x":">500","y":2.8},{"s":"d1","x":">1k","y":1.6},{"s":"d1","x":">5k","y":0.3},{"s":"d1","x":">10k+","y":0},
{"s":"d2","x":"1","y":92},{"s":"d2","x":"2","y":12},{"s":"d2","x":"3","y":4},{"s":"d2","x":"4","y":2.8},{"s":"d2","x":"5","y":2.4},{"s":"d2","x":"6","y":2.1},{"s":"d2","x":"7","y":1.9},{"s":"d2","x":"8","y":1.7},{"s":"d2","x":"9","y":1.5},{"s":"d2","x":">10","y":10.2},{"s":"d2","x":">50","y":3.9},{"s":"d2","x":">100","y":5.5},{"s":"d2","x":">500","y":2.5},{"s":"d2","x":">1k","y":1.4},{"s":"d2","x":">5k","y":0.2},{"s":"d2","x":">10k+","y":0},
{"s":"d3","x":"1","y":89},{"s":"d3","x":"2","y":10.5},{"s":"d3","x":"3","y":3.6},{"s":"d3","x":"4","y":2.6},{"s":"d3","x":"5","y":2.2},{"s":"d3","x":"6","y":2},{"s":"d3","x":"7","y":1.8},{"s":"d3","x":"8","y":1.6},{"s":"d3","x":"9","y":1.4},{"s":"d3","x":">10","y":9.5},{"s":"d3","x":">50","y":3.5},{"s":"d3","x":">100","y":5},{"s":"d3","x":">500","y":2.2},{"s":"d3","x":">1k","y":1.2},{"s":"d3","x":">5k","y":0.2},{"s":"d3","x":">10k+","y":0},
{"s":"d4","x":"1","y":86},{"s":"d4","x":"2","y":9},{"s":"d4","x":"3","y":3.2},{"s":"d4","x":"4","y":2.4},{"s":"d4","x":"5","y":2},{"s":"d4","x":"6","y":1.8},{"s":"d4","x":"7","y":1.6},{"s":"d4","x":"8","y":1.4},{"s":"d4","x":"9","y":1.3},{"s":"d4","x":">10","y":8.5},{"s":"d4","x":">50","y":3},{"s":"d4","x":">100","y":4.2},{"s":"d4","x":">500","y":1.9},{"s":"d4","x":">1k","y":1},{"s":"d4","x":">5k","y":0.1},{"s":"d4","x":">10k+","y":0},
{"s":"d5","x":"1","y":83},{"s":"d5","x":"2","y":8},{"s":"d5","x":"3","y":2.8},{"s":"d5","x":"4","y":2.1},{"s":"d5","x":"5","y":1.8},{"s":"d5","x":"6","y":1.6},{"s":"d5","x":"7","y":1.5},{"s":"d5","x":"8","y":1.3},{"s":"d5","x":"9","y":1.2},{"s":"d5","x":">10","y":7.5},{"s":"d5","x":">50","y":2.6},{"s":"d5","x":">100","y":3.6},{"s":"d5","x":">500","y":1.6},{"s":"d5","x":">1k","y":0.8},{"s":"d5","x":">5k","y":0.1},{"s":"d5","x":">10k+","y":0},
{"s":"d6","x":"1","y":80},{"s":"d6","x":"2","y":7},{"s":"d6","x":"3","y":2.5},{"s":"d6","x":"4","y":1.9},{"s":"d6","x":"5","y":1.6},{"s":"d6","x":"6","y":1.5},{"s":"d6","x":"7","y":1.3},{"s":"d6","x":"8","y":1.2},{"s":"d6","x":"9","y":1.1},{"s":"d6","x":">10","y":6.5},{"s":"d6","x":">50","y":2.2},{"s":"d6","x":">100","y":3},{"s":"d6","x":">500","y":1.3},{"s":"d6","x":">1k","y":0.7},{"s":"d6","x":">5k","y":0.1},{"s":"d6","x":">10k+","y":0},
{"s":"d7","x":"1","y":77},{"s":"d7","x":"2","y":6},{"s":"d7","x":"3","y":2.2},{"s":"d7","x":"4","y":1.7},{"s":"d7","x":"5","y":1.4},{"s":"d7","x":"6","y":1.3},{"s":"d7","x":"7","y":1.2},{"s":"d7","x":"8","y":1.1},{"s":"d7","x":"9","y":1},{"s":"d7","x":">10","y":5.5},{"s":"d7","x":">50","y":1.8},{"s":"d7","x":">100","y":2.4},{"s":"d7","x":">500","y":1.1},{"s":"d7","x":">1k","y":0.5},{"s":"d7","x":">5k","y":0.1},{"s":"d7","x":">10k+","y":0},
{"s":"d8","x":"1","y":74},{"s":"d8","x":"2","y":5},{"s":"d8","x":"3","y":1.9},{"s":"d8","x":"4","y":1.5},{"s":"d8","x":"5","y":1.3},{"s":"d8","x":"6","y":1.2},{"s":"d8","x":"7","y":1.1},{"s":"d8","x":"8","y":1},{"s":"d8","x":"9","y":0.9},{"s":"d8","x":">10","y":4.5},{"s":"d8","x":">50","y":1.5},{"s":"d8","x":">100","y":1.9},{"s":"d8","x":">500","y":0.9},{"s":"d8","x":">1k","y":0.4},{"s":"d8","x":">5k","y":0.05},{"s":"d8","x":">10k+","y":0},
{"s":"d9","x":"1","y":71},{"s":"d9","x":"2","y":4},{"s":"d9","x":"3","y":1.6},{"s":"d9","x":"4","y":1.3},{"s":"d9","x":"5","y":1.1},{"s":"d9","x":"6","y":1},{"s":"d9","x":"7","y":0.9},{"s":"d9","x":"8","y":0.8},{"s":"d9","x":"9","y":0.8},{"s":"d9","x":">10","y":3},{"s":"d9","x":">50","y":1.2},{"s":"d9","x":">100","y":1.4},{"s":"d9","x":">500","y":0.7},{"s":"d9","x":">1k","y":0.3},{"s":"d9","x":">5k","y":0.05},{"s":"d9","x":">10k+","y":0},
{"s":"d10","x":"1","y":68},{"s":"d10","x":"2","y":2.5},{"s":"d10","x":"3","y":1.2},{"s":"d10","x":"4","y":1},{"s":"d10","x":"5","y":0.9},{"s":"d10","x":"6","y":0.8},{"s":"d10","x":"7","y":0.7},{"s":"d10","x":"8","y":0.7},{"s":"d10","x":"9","y":0.6},{"s":"d10","x":">10","y":1.5},{"s":"d10","x":">50","y":0.8},{"s":"d10","x":">100","y":1},{"s":"d10","x":">500","y":0.5},{"s":"d10","x":">1k","y":0.2},{"s":"d10","x":">5k","y":0},{"s":"d10","x":">10k+","y":0},
{"s":"d11","x":"1","y":70},{"s":"d11","x":"2","y":1.8},{"s":"d11","x":"3","y":0.8},{"s":"d11","x":"4","y":0.6},{"s":"d11","x":"5","y":0.5},{"s":"d11","x":"6","y":0.5},{"s":"d11","x":"7","y":0.4},{"s":"d11","x":"8","y":0.4},{"s":"d11","x":"9","y":0.4},{"s":"d11","x":">10","y":0.6},{"s":"d11","x":">50","y":0.4},{"s":"d11","x":">100","y":0.5},{"s":"d11","x":">500","y":0.3},{"s":"d11","x":">1k","y":0.1},{"s":"d11","x":">5k","y":0},{"s":"d11","x":">10k+","y":0},
{"s":"e1","x":"1","y":56.3},{"s":"e1","x":"2","y":5},{"s":"e1","x":"3","y":4.6},{"s":"e1","x":"4","y":4.9},{"s":"e1","x":"5","y":5.3},{"s":"e1","x":"6","y":5},{"s":"e1","x":"7","y":4.4},{"s":"e1","x":"8","y":3.7},{"s":"e1","x":"9","y":2.8},{"s":"e1","x":">10","y":9.6},{"s":"e1","x":">50","y":0.7},{"s":"e1","x":">100","y":0.6},{"s":"e1","x":">500","y":0.4},{"s":"e1","x":">1k","y":0.2},{"s":"e1","x":">5k","y":0.1},{"s":"e1","x":">10k+","y":0},
{"s":"e2","x":"1","y":55.5},{"s":"e2","x":"2","y":4.3},{"s":"e2","x":"3","y":4.2},{"s":"e2","x":"4","y":4.5},{"s":"e2","x":"5","y":4.9},{"s":"e2","x":"6","y":4.7},{"s":"e2","x":"7","y":4.1},{"s":"e2","x":"8","y":3.4},{"s":"e2","x":"9","y":2.5},{"s":"e2","x":">10","y":8.8},{"s":"e2","x":">50","y":0.9},{"s":"e2","x":">100","y":0.8},{"s":"e2","x":">500","y":0.5},{"s":"e2","x":">1k","y":0.3},{"s":"e2","x":">5k","y":0.1},{"s":"e2","x":">10k+","y":0}
]
},
"vconcat":[
{
 "spacing":-8,
 "vconcat":[
  {"spacing":0,"hconcat":[
   {"width":1,"height":1,"data":{"values":[]},"mark":{"type":"point","opacity":0},"encoding":{}},
   {
    "title":{"text":"A","anchor":"start","frame":"bounds","fontSize":28,"fontWeight":"bold","color":"#000000","offset":-0.5},
    "vconcat":[{
     "title":{"text":"Created with MultiQC","orient":"bottom","anchor":"end","frame":"bounds","fontSize":9,"color":"#999999","offset":3,"dx":-3},
     "vconcat":[{
      "width":457,"height":258,
      "title":{"text":"FastQC: Mean Quality Scores","anchor":"middle","frame":"group","fontSize":16,"color":"#333333","offset":11.5,"dx":1.5},
      "layer":[
       {"data":{"name":"zones"},"mark":{"type":"rect"},
        "encoding":{
         "x":{"datum":0,"type":"quantitative","scale":{"domain":[0,152],"nice":false},"axis":{"title":"Position (bp)","values":[0,25,50,75,100,125,150],"grid":false,"tickSize":8,"labelPadding":1,"titlePadding":5,
           "labelAlign":{"condition":{"test":"datum.value === 150","value":"right"},"value":"center"},
           "labelOffset":{"condition":{"test":"datum.value === 150","value":6},"value":0}}},
         "x2":{"datum":152},
         "y":{"field":"lo","type":"quantitative","scale":{"domain":[0,40],"nice":false},"axis":{"title":"Phred Score","values":[0,10,20,30,40],"domain":false,"ticks":false,"labelPadding":12,"titlePadding":12,"zindex":1}},
         "y2":{"field":"hi"},
         "fill":{"field":"zone","type":"nominal","scale":{"domain":["pass","warn","fail"],"range":["#c3e2d2","#e5dccb","#e4c6c7"]},"legend":null}
        }},
       {"data":{"name":"qual"},"mark":{"type":"line","strokeWidth":3.2,"color":"#57ba7a"},
        "encoding":{
         "x":{"field":"x","type":"quantitative"},
         "y":{"field":"y","type":"quantitative"},
         "detail":{"field":"s","type":"nominal"}
        }}
      ]
     }]
    }]
   }
  ]},
  {"spacing":0,"hconcat":[
   {"width":1,"height":1,"data":{"values":[]},"mark":{"type":"point","opacity":0},"encoding":{}},
   {
    "title":{"text":"B","anchor":"start","frame":"bounds","fontSize":28,"fontWeight":"bold","color":"#000000","offset":3.5},
    "vconcat":[{
     "title":{"text":"Created with MultiQC","orient":"bottom","anchor":"end","frame":"bounds","fontSize":9,"color":"#999999","offset":3,"dx":-6},
     "vconcat":[{
      "width":464,"height":259,
      "title":{"text":"FastQC: Per Sequence GC Content","anchor":"middle","frame":"group","fontSize":16,"color":"#333333","offset":11.5,"dx":4},
      "data":{"name":"gc"},
      "transform":[{"lookup":"s","from":{"data":{"name":"samples"},"key":"s","fields":["q"]}}],
      "mark":{"type":"line","strokeWidth":2},
      "encoding":{
       "x":{"field":"x","type":"quantitative","scale":{"domain":[0,100],"nice":false},"axis":{"title":"% GC","values":[0,20,40,60,80,100],"grid":false,"tickSize":8,"labelPadding":1,"titlePadding":6}},
       "y":{"field":"y","type":"quantitative","scale":{"domain":[0,6],"nice":false},"axis":{"title":"Percentage","values":[0,1,2,3,4,5,6],"domain":false,"ticks":false,"labelPadding":12,"titlePadding":10}},
       "stroke":{"field":"q","type":"nominal","scale":{"domain":["pass","warn","fail"],"range":["#57ba7a","#f0b25c","#da6e62"]},"legend":null},
       "detail":{"field":"s","type":"nominal"}
      }
     }]
    }]
   }
  ]}
 ]
},
{"spacing":0,"hconcat":[
 {"width":1,"height":1,"data":{"values":[]},"mark":{"type":"point","opacity":0},"encoding":{}},
 {
  "title":{"text":"C","anchor":"start","frame":"bounds","fontSize":28,"fontWeight":"bold","color":"#000000","offset":10},
  "vconcat":[{
   "title":{"text":"Created with MultiQC","orient":"bottom","anchor":"end","frame":"bounds","fontSize":9,"color":"#999999","offset":1,"dx":0},
   "vconcat":[{
    "width":451,"height":237,
    "title":{"text":"FastQC: Sequence Duplication Levels","anchor":"middle","frame":"group","fontSize":16,"color":"#333333","offset":11.5,"dx":-1.5},
    "data":{"name":"dup"},
    "transform":[{"lookup":"s","from":{"data":{"name":"samples"},"key":"s","fields":["q"]}}],
    "mark":{"type":"line","strokeWidth":2},
    "encoding":{
     "x":{"field":"x","type":"ordinal","bandPosition":0.5,"sort":["1","2","3","4","5","6","7","8","9",">10",">50",">100",">500",">1k",">5k",">10k+"],"scale":{"type":"band","paddingInner":0,"paddingOuter":0},"axis":{"title":"Sequence Duplication Level","labelAngle":-45,"tickBand":"extent","grid":false,"tickSize":8,"labelPadding":2,"titlePadding":8}},
     "y":{"field":"y","type":"quantitative","scale":{"domain":[0,100],"nice":false},"axis":{"title":"% of Library","values":[0,25,50,75,100],"domain":false,"ticks":false,"labelPadding":12,"titlePadding":12}},
     "stroke":{"field":"q","type":"nominal","scale":{"domain":["pass","warn","fail"],"range":["#57ba7a","#f0b25c","#da6e62"]},"legend":null},
     "detail":{"field":"s","type":"nominal"}
    }
   }]
  }]
 }
]}
],
"spacing":3
}
